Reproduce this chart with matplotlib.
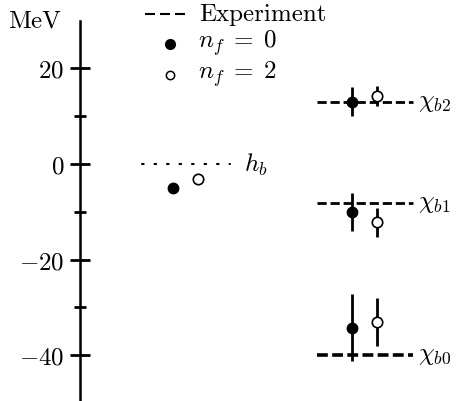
import matplotlib
matplotlib.use("Agg")
import matplotlib.pyplot as plt
from matplotlib.ticker import FixedLocator

plt.rcParams['mathtext.fontset'] = 'cm'
plt.rcParams['font.family'] = ['cmr10', 'DejaVu Serif']

# ---- data (MeV) ----
states = [r'$h_b$', r'$\chi_{b0}$', r'$\chi_{b1}$', r'$\chi_{b2}$']
experiment = [0.0, -40.0, -8.2, 13.0]
nf0_vals = [-5.0, -34.3, -10.0, 13.0]
nf0_errs = [0.0, 7.0, 4.0, 3.0]
nf2_vals = [-3.1, -33.1, -12.2, 14.2]
nf2_errs = [0.0, 5.0, 3.0, 2.0]
major_ticks = [-40, -20, 0, 20]
major_labels = [r'$-40$', r'$-20$', r'$0$', r'$20$']
minor_ticks = [-30, -10, 10]
legend_labels = ['Experiment', r'$n_f\;=\;0$', r'$n_f\;=\;2$']

# ---- layout ----
W, H = 462, 402
centers = [185.5, 364.5, 364.5, 364.5]
half_widths = [44, 48, 48, 48]
offset = 12.5

fig = plt.figure(figsize=(4.62, 4.02), dpi=100)
ax = fig.add_axes([0, 0, 1, 1])
ax.set_xlim(0, W)
ax.set_ylim(-49.6, 34.5)

for sp in ['top', 'right', 'bottom']:
    ax.spines[sp].set_visible(False)
ax.spines['left'].set_position(('data', 80))
ax.spines['left'].set_bounds(-52, 30)
ax.spines['left'].set_linewidth(1.8)
ax.xaxis.set_visible(False)
ax.yaxis.set_major_locator(FixedLocator(major_ticks))
ax.set_yticklabels(major_labels)
ax.yaxis.set_minor_locator(FixedLocator(minor_ticks))
ax.tick_params(axis='y', which='major', direction='inout', length=15, width=2.0,
               labelsize=18, pad=4)
ax.tick_params(axis='y', which='minor', direction='inout', length=8, width=2.0)

for i, (c, hw, e) in enumerate(zip(centers, half_widths, experiment)):
    if i == 0:
        ax.plot([c - hw, c + hw], [e, e], color='black', lw=1.5,
                linestyle=(0, (0.8, 5.2)), dash_capstyle='round')
        ax.text(c + hw + 14, e, states[i], fontsize=18, va='center', ha='left')
    else:
        if i == 1:
            ax.plot([c - hw, c + hw], [e, e], color='black', lw=2.6,
                    dashes=(3.0, 1.2))
        else:
            ax.plot([c - hw, c + hw], [e, e], color='black', lw=2.0,
                    dashes=(3.3, 1.4))
        ax.text(c + hw + 6, e, states[i], fontsize=18, va='center', ha='left')

for i, c in enumerate(centers):
    ax.errorbar(c - offset, nf0_vals[i], yerr=nf0_errs[i] if nf0_errs[i] else None,
                fmt='o', color='black', mfc='black', ms=7.5, elinewidth=2.0,
                capsize=0, zorder=4)
    ax.errorbar(c + offset, nf2_vals[i], yerr=nf2_errs[i] if nf2_errs[i] else None,
                fmt='o', color='black', mfc='white', mec='black', mew=1.2,
                ms=7.5, elinewidth=2.0, capsize=0, zorder=4)

ax.text(8, 30.0, 'MeV', fontsize=18, va='center', ha='left')

# ---- legend (drawn in figure-pixel fractions) ----
ta = ax.transAxes
ax.plot([145 / W, 185 / W], [1 - 15 / H, 1 - 15 / H], color='black', lw=1.5,
        dashes=(4.8, 2.4), transform=ta)
ax.text(199 / W, 1 - 15 / H, legend_labels[0], fontsize=18, va='center', ha='left',
        transform=ta)
ax.plot([170 / W], [1 - 45 / H], marker='o', ms=7.0, color='black', mfc='black',
        ls='none', transform=ta)
ax.text(198 / W, 1 - 43 / H, legend_labels[1], fontsize=18, va='center', ha='left',
        transform=ta)
ax.plot([170 / W], [1 - 76 / H], marker='o', ms=6.0, color='black', mfc='white',
        mew=1.1, ls='none', transform=ta)
ax.text(198 / W, 1 - 74 / H, legend_labels[2], fontsize=18, va='center', ha='left',
        transform=ta)

fig.savefig('out.png', dpi=100)
